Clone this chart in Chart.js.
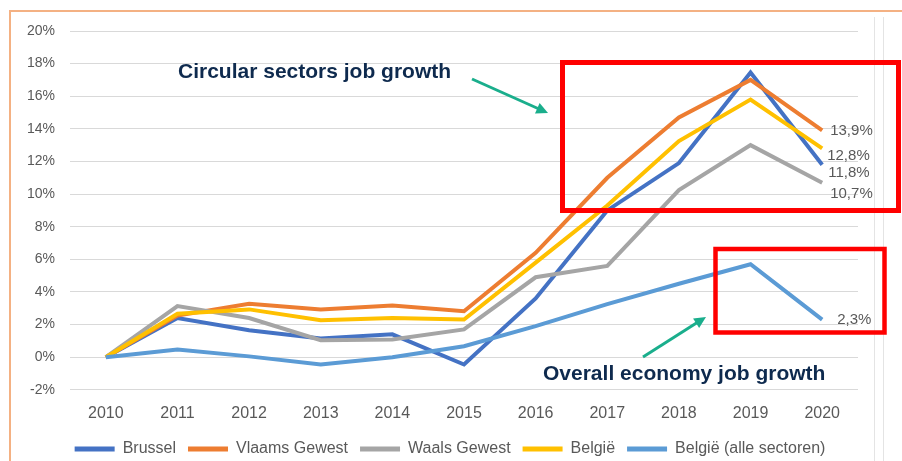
<!DOCTYPE html>
<html lang="nl">
<head>
    <meta charset="UTF-8">
    <title>Jobgroei circulaire sectoren</title>
    <script src="https://cdn.jsdelivr.net/npm/chart.js"></script>
    <style>
        body {
            margin: 0;
            padding: 0;
            background: #fff;
        }

        .wrap {
            position: relative;
            width: 902px;
            height: 461px;
        }
    </style>
</head>
<body>
    <div class="wrap">
        <canvas id="jobChart"></canvas>
    </div>

    <script>
        // Cumulatieve jobgroei t.o.v. 2010, in %
        const years = ['2010', '2011', '2012', '2013', '2014', '2015', '2016', '2017', '2018', '2019', '2020'];
        const brussel = [0, 2.4, 1.65, 1.15, 1.4, -0.45, 3.6, 9.0, 11.9, 17.45, 11.8];
        const vlaams = [0, 2.55, 3.27, 2.93, 3.17, 2.82, 6.4, 11.0, 14.7, 17.0, 13.9];
        const waals = [0, 3.13, 2.4, 1.04, 1.08, 1.7, 4.9, 5.6, 10.25, 13.0, 10.7];
        const belgie = [0, 2.66, 2.93, 2.27, 2.41, 2.31, 5.8, 9.3, 13.25, 15.8, 12.8];
        const belgieAlle = [0, 0.47, 0.05, -0.45, 0.0, 0.67, 1.9, 3.25, 4.5, 5.7, 2.3];
        const yTicks = [-2, 0, 2, 4, 6, 8, 10, 12, 14, 16, 18, 20];

        const fmt = v => v.toFixed(1).replace('.', ',') + '%';

        function series(label, data, color, order, labelDx, labelDy) {
            return {
                label: label,
                data: data,
                borderColor: color,
                backgroundColor: color,
                borderWidth: 4,
                pointRadius: 0,
                tension: 0,
                order: order,
                labelDx: labelDx,
                labelDy: labelDy
            };
        }

        // waarde van het laatste jaar naast de lijn
        const endLabels = {
            id: 'endLabels',
            afterDatasetsDraw(chart) {
                const ctx = chart.ctx;
                ctx.save();
                ctx.font = '15px "Liberation Sans", Arial, sans-serif';
                ctx.fillStyle = '#595959';
                ctx.textBaseline = 'middle';
                chart.data.datasets.forEach((ds, i) => {
                    const meta = chart.getDatasetMeta(i);
                    const last = meta.data[meta.data.length - 1];
                    ctx.fillText(fmt(ds.data[ds.data.length - 1]), last.x + ds.labelDx, last.y + ds.labelDy);
                });
                ctx.restore();
            }
        };

        // legende wat hoger en meer gecentreerd zetten
        const legendNudge = {
            id: 'legendNudge',
            afterLayout(chart) {
                const lg = chart.legend;
                lg.top -= 8;
                lg.bottom -= 8;
                lg.left += 16;
                lg.right += 16;
            }
        };

        function arrow(ctx, x1, y1, x2, y2) {
            const a = Math.atan2(y2 - y1, x2 - x1);
            const head = 13;
            ctx.beginPath();
            ctx.moveTo(x1, y1);
            ctx.lineTo(x2 - Math.cos(a) * head * 0.8, y2 - Math.sin(a) * head * 0.8);
            ctx.stroke();
            ctx.beginPath();
            ctx.moveTo(x2, y2);
            ctx.lineTo(x2 - head * Math.cos(a - 0.45), y2 - head * Math.sin(a - 0.45));
            ctx.lineTo(x2 - head * Math.cos(a + 0.45), y2 - head * Math.sin(a + 0.45));
            ctx.closePath();
            ctx.fill();
        }

        // kader, rode vakken, pijlen en toelichting
        const callouts = {
            id: 'callouts',
            beforeDraw(chart) {
                const ctx = chart.ctx;
                ctx.save();
                ctx.strokeStyle = '#F4B183';
                ctx.lineWidth = 2;
                ctx.beginPath();
                ctx.moveTo(10, 461);
                ctx.lineTo(10, 11);
                ctx.lineTo(902, 11);
                ctx.stroke();

                ctx.strokeStyle = '#E4E4E4';
                ctx.lineWidth = 1;
                ctx.beginPath();
                ctx.moveTo(874.5, 17);
                ctx.lineTo(874.5, 461);
                ctx.moveTo(883.5, 17);
                ctx.lineTo(883.5, 461);
                ctx.stroke();
                ctx.restore();
            },
            afterDraw(chart) {
                const ctx = chart.ctx;
                ctx.save();
                ctx.strokeStyle = '#FF0000';
                ctx.lineWidth = 5;
                ctx.strokeRect(562.5, 62.5, 336, 148);
                ctx.lineWidth = 4.5;
                ctx.strokeRect(715.5, 249, 169, 83.5);

                ctx.strokeStyle = '#1AAE8C';
                ctx.fillStyle = '#1AAE8C';
                ctx.lineWidth = 3;
                arrow(ctx, 472, 79, 548, 113);
                arrow(ctx, 643, 357, 706, 317);

                ctx.fillStyle = '#0E2A4E';
                ctx.font = 'bold 21px "Liberation Sans", Arial, sans-serif';
                ctx.textBaseline = 'alphabetic';
                ctx.fillText('Circular sectors job growth', 178, 78);
                ctx.fillText('Overall economy job growth', 543, 380);
                ctx.restore();
            }
        };

        const ctx = document.getElementById('jobChart').getContext('2d');
        new Chart(ctx, {
            type: 'line',
            data: {
                labels: years,
                datasets: [
                    series('Brussel', brussel, '#4472C4', 5, 6, 8),
                    series('Vlaams Gewest', vlaams, '#ED7D31', 4, 8, 0),
                    series('Waals Gewest', waals, '#A5A5A5', 3, 8, 11),
                    series('België', belgie, '#FFC000', 2, 5, 7),
                    series('België (alle sectoren)', belgieAlle, '#5B9BD5', 1, 15, 0)
                ]
            },
            options: {
                responsive: true,
                maintainAspectRatio: false,
                animation: false,
                layout: {
                    padding: { left: 10, right: 44, top: 31, bottom: -14 }
                },
                scales: {
                    x: {
                        offset: true,
                        grid: { display: false, drawTicks: false },
                        border: { display: false },
                        ticks: {
                            padding: 14,
                            color: '#595959',
                            font: { family: '"Liberation Sans", Arial, sans-serif', size: 16 },
                            maxRotation: 0
                        }
                    },
                    y: {
                        min: -2,
                        max: 20,
                        afterFit(scale) { scale.width = 60; },
                        afterBuildTicks(scale) { scale.ticks = yTicks.map(v => ({ value: v })); },
                        grid: { color: '#D9D9D9', lineWidth: 1, drawTicks: false },
                        border: { display: false },
                        ticks: {
                            padding: 15,
                            color: '#595959',
                            font: { family: '"Liberation Sans", Arial, sans-serif', size: 14 },
                            callback: v => v + '%'
                        }
                    }
                },
                plugins: {
                    tooltip: { enabled: false },
                    legend: {
                        position: 'bottom',
                        labels: {
                            boxWidth: 40,
                            boxHeight: 5,
                            padding: 12,
                            color: '#595959',
                            font: { family: '"Liberation Sans", Arial, sans-serif', size: 16 },
                            useBorderRadius: true,
                            borderRadius: 2.5,
                            generateLabels(chart) {
                                return chart.data.datasets.map((ds, i) => ({
                                    text: ds.label,
                                    fillStyle: ds.borderColor,
                                    strokeStyle: ds.borderColor,
                                    lineWidth: 0,
                                    hidden: false,
                                    datasetIndex: i,
                                    fontColor: '#595959'
                                }));
                            }
                        }
                    }
                }
            },
            plugins: [endLabels, legendNudge, callouts]
        });
    </script>
</body>
</html>
